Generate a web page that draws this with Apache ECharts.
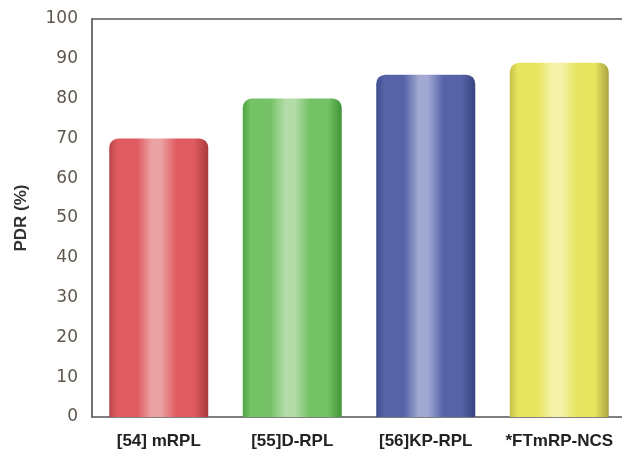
<!DOCTYPE html>
<html>
<head>
<meta charset="utf-8">
<script src="https://cdn.jsdelivr.net/npm/echarts@6/dist/echarts.min.js"></script>
<style>
  html, body { margin: 0; padding: 0; background: #fff; }
  #chart { width: 622px; height: 450px; }
</style>
</head>
<body>
<div id="chart"></div>
<script>
// Packet delivery ratio per routing protocol
const categories = ['[54] mRPL', '[55]D-RPL', '[56]KP-RPL', '*FTmRP-NCS'];
const pdrValues = [70, 80, 86, 89];
const yTicks = { min: 0, max: 100, interval: 10 };

// Cylinder shading for each bar: [edge, body, highlight, far edge]
const shades = [
  ['#b8454a', '#df5b5f', '#eba2a4', '#a8383c'],
  ['#4ba43f', '#74c265', '#b4dca8', '#3f9436'],
  ['#3f4b8f', '#5664a7', '#a1a8d2', '#37427f'],
  ['#c4c24a', '#e7e45f', '#f5f2aa', '#a9a340']
];

function cylinder(s) {
  return new echarts.graphic.LinearGradient(0, 0, 1, 0, [
    { offset: 0, color: s[0] },
    { offset: 0.08, color: s[1] },
    { offset: 0.28, color: s[1] },
    { offset: 0.43, color: s[2] },
    { offset: 0.52, color: s[2] },
    { offset: 0.68, color: s[1] },
    { offset: 0.86, color: s[1] },
    { offset: 1, color: s[3] }
  ]);
}

const chart = echarts.init(document.getElementById('chart'), null, { renderer: 'canvas' });

chart.setOption({
  animation: false,
  backgroundColor: '#ffffff',
  grid: { left: 92, right: -4, top: 19, bottom: 33, containLabel: false, outerBoundsMode: 'none' },
  xAxis: [
    {
      type: 'category',
      data: categories,
      axisLine: { show: true, lineStyle: { color: '#555', width: 1.5 } },
      axisTick: { show: false },
      axisLabel: {
        interval: 0,
        hideOverlap: false,
        color: '#222',
        fontFamily: 'Liberation Sans, Arial, sans-serif',
        fontWeight: 'bold',
        fontSize: 17,
        margin: 16
      }
    },
    {
      type: 'category',
      position: 'top',
      data: categories,
      axisLine: { show: true, lineStyle: { color: '#555', width: 1.5 } },
      axisTick: { show: false },
      axisLabel: { show: false }
    }
  ],
  yAxis: {
    type: 'value',
    min: yTicks.min,
    max: yTicks.max,
    interval: yTicks.interval,
    name: 'PDR (%)',
    nameLocation: 'middle',
    nameGap: 62,
    nameRotate: 90,
    nameTextStyle: {
      color: '#333',
      fontFamily: 'Liberation Sans, Arial, sans-serif',
      fontWeight: 'bold',
      fontSize: 17
    },
    axisLine: { show: true, lineStyle: { color: '#444', width: 1.5 } },
    axisTick: { show: false },
    splitLine: { show: false },
    axisLabel: {
      color: '#5e574d',
      fontFamily: 'DejaVu Sans, sans-serif',
      fontSize: 17,
      margin: 14
    }
  },
  series: [{
    type: 'bar',
    barWidth: 99,
    data: pdrValues.map((v, i) => ({
      value: v,
      itemStyle: { color: cylinder(shades[i]), borderRadius: [9, 9, 0, 0] }
    }))
  }]
});
</script>
</body>
</html>
